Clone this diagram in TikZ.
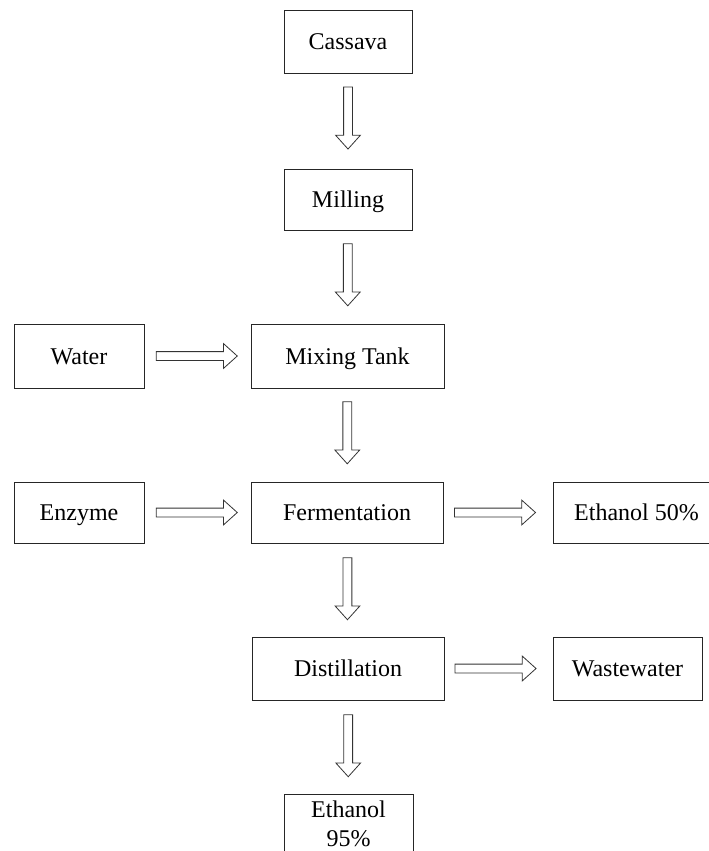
\documentclass[tikz,border=0pt]{standalone}
\usepackage{fontspec}
\setmainfont{Liberation Serif}
\usetikzlibrary{shapes.arrows}

\tikzset{
  box/.style={draw=black!85, line width=0.9pt, minimum width=128pt, minimum height=63pt, inner sep=2pt, text height=16pt, text depth=0pt, font=\fontsize{24}{29}\selectfont},
  flow/.style={single arrow, draw=black!80, line width=0.8pt, inner sep=0pt, inner ysep=4pt, minimum width=24pt, single arrow head extend=8pt, single arrow tip angle=84},
  flowdown/.style={flow, minimum height=62pt, rotate=-90},
  flowright/.style={flow, minimum height=81pt},
}

\begin{document}
\begin{tikzpicture}[x=1pt,y=-1pt]
\useasboundingbox (0,0) rectangle (709,851);
\node[box] (cassava) at (348,42) {Cassava};
\node[box, minimum height=61pt] (milling) at (348,199.5) {Milling};
\node[box, minimum width=193pt, minimum height=64pt] (mixing) at (347.5,356) {Mixing Tank};
\node[box, minimum width=130pt, minimum height=64pt] (water) at (79,356) {Water};
\node[box, minimum width=130pt, minimum height=61pt] (enzyme) at (79,512.5) {Enzyme};
\node[box, minimum width=192pt, minimum height=61pt] (ferment) at (347,512.5) {Fermentation};
\node[box, minimum width=167pt, minimum height=61pt] (eth50) at (636.5,512.5) {Ethanol 50\%};
\node[box, minimum width=192pt] (distill) at (348,668.5) {Distillation};
\node[box, minimum width=149pt] (waste) at (627.5,668.5) {Wastewater};
\node[box, minimum width=129pt, minimum height=60pt, text height=, text depth=, align=center] (eth95) at (348.5,824) {Ethanol\\95\%};
% down the line
\path (cassava) -- node[flowdown, pos=0.44] {} (milling);
\path (milling) -- node[flowdown, pos=0.45] {} (mixing);
\path (mixing) -- node[flowdown, pos=0.45] {} (ferment);
\path (ferment) -- node[flowdown, pos=0.46] {} (distill);
\path (distill) -- node[flowdown, pos=0.46] {} (eth95);
% side streams
\path (water) -- node[flowright, pos=0.47] {} (mixing);
\path (enzyme) -- node[flowright, pos=0.47] {} (ferment);
\path (ferment) -- node[flowright, pos=0.45] {} (eth50);
\path (distill) -- node[flowright, pos=0.45] {} (waste);
\end{tikzpicture}
\end{document}
